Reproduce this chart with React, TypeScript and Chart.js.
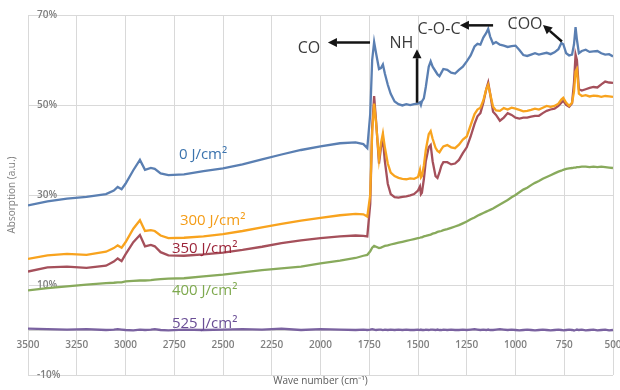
import { useEffect, useRef } from 'react';
import { Chart, registerables } from 'chart.js';

Chart.register(...registerables);

// Wave numbers (cm-1)
const waveNumbers = [
  3500, 3400, 3300, 3200, 3100, 3060, 3040, 3020, 3000, 2960,
  2926, 2900, 2870, 2850, 2820, 2780, 2700, 2600, 2500, 2400,
  2300, 2200, 2100, 2000, 1900, 1820, 1780, 1760, 1745, 1735,
  1725, 1715, 1700, 1690, 1680, 1670, 1655, 1640, 1620, 1600,
  1580, 1560, 1540, 1520, 1500, 1490, 1485, 1480, 1470, 1460,
  1445, 1435, 1425, 1410, 1400, 1390, 1380, 1370, 1350, 1330,
  1310, 1290, 1270, 1250, 1230, 1210, 1195, 1180, 1165, 1150,
  1140, 1130, 1115, 1100, 1080, 1060, 1040, 1020, 1000, 980,
  960, 940, 920, 900, 880, 860, 840, 820, 800, 780,
  765, 755, 740, 725, 710, 700, 692, 685, 675, 660,
  640, 620, 600, 580, 560, 540, 520, 500,
];

// Absorption (%) for each fluence
const abs0 = [
  27.7, 28.6, 29.2, 29.6, 30.2, 31.0, 31.8, 31.3, 32.5, 35.5,
  37.8, 35.6, 36.0, 35.8, 34.8, 34.4, 34.6, 35.3, 35.9, 36.8,
  37.9, 39.0, 40.0, 40.8, 41.5, 41.7, 41.3, 40.4, 48.0, 60.0,
  64.0, 61.5, 58.0, 58.2, 59.0, 57.0, 54.5, 52.5, 50.8, 50.2,
  49.9, 50.2, 50.0, 50.2, 50.3, 50.6, 50.0, 50.8, 51.5, 54.0,
  58.5, 59.7, 58.5, 57.5, 56.8, 56.4, 57.2, 58.0, 57.8, 57.2,
  57.0, 57.8, 58.5, 59.7, 61.0, 63.0, 63.6, 63.4, 65.0, 66.0,
  66.9, 65.2, 63.6, 64.0, 63.4, 63.2, 62.9, 63.1, 63.2, 62.2,
  61.1, 60.9, 61.2, 61.5, 61.2, 61.4, 61.6, 61.3, 61.7, 62.4,
  63.8, 63.5, 61.5, 61.0, 61.2, 63.5, 67.3, 64.5, 61.5, 62.0,
  62.3, 61.8, 61.9, 62.0, 61.5, 61.2, 61.3, 60.8,
];
const abs300 = [
  15.8, 16.6, 16.9, 16.7, 17.4, 18.2, 18.8, 18.3, 19.5, 22.5,
  24.4, 22.0, 22.2, 22.0, 21.0, 20.4, 20.5, 20.8, 21.3, 22.0,
  22.8, 23.6, 24.3, 24.9, 25.5, 25.8, 25.7, 25.2, 30.0, 44.0,
  50.3, 46.0, 38.0, 41.5, 43.7, 40.6, 37.0, 35.0, 34.2, 33.8,
  33.6, 33.5, 33.7, 33.6, 34.0, 35.6, 33.9, 34.2, 36.5, 40.0,
  43.5, 44.2, 42.5, 40.5, 39.8, 39.5, 40.2, 40.8, 41.1, 40.6,
  40.4, 41.2, 42.3, 43.0, 45.5, 48.0, 49.0, 49.4, 51.0, 53.5,
  54.5, 52.5, 49.6, 48.8, 48.7, 49.3, 49.0, 49.4, 49.2, 48.9,
  48.6, 48.7, 48.9, 49.2, 49.0, 49.4, 49.8, 49.6, 49.8, 50.3,
  51.2, 51.6, 50.5, 49.8, 50.5, 53.0, 57.5, 58.0, 52.5, 52.0,
  52.2, 51.9, 52.1, 52.0, 51.8, 52.0, 51.9, 51.8,
];
const abs350 = [
  13.0, 13.9, 14.1, 13.8, 14.3, 15.2, 15.9, 15.3, 16.8, 19.5,
  21.1, 18.6, 18.9, 18.6, 17.3, 16.6, 16.5, 16.8, 17.2, 17.8,
  18.5, 19.3, 19.9, 20.4, 20.8, 21.0, 20.9, 20.8, 28.0, 45.0,
  52.0, 46.5, 37.0, 40.5, 42.6, 37.5, 32.5, 30.2, 29.5, 29.4,
  29.6, 29.7, 29.9, 30.2, 31.0, 31.9, 30.2, 30.5, 33.5, 37.5,
  40.6, 41.1, 37.5, 34.2, 33.8, 35.0, 36.5, 37.3, 37.3, 36.8,
  37.0, 37.8, 39.3, 40.6, 43.0, 45.8, 47.5, 48.2, 50.5, 53.5,
  55.0, 52.5, 48.5, 47.8, 46.5, 47.2, 48.2, 47.8, 47.2, 47.0,
  47.2, 47.2, 47.4, 47.6, 47.6, 48.2, 48.7, 49.0, 49.2, 49.8,
  50.5, 50.9, 50.0, 49.6, 50.4, 55.0, 61.2, 60.0, 53.5, 53.2,
  53.5, 53.8, 54.0, 53.9, 54.6, 55.2, 55.0, 54.9,
];
const abs400 = [
  8.8, 9.3, 9.7, 10.1, 10.4, 10.5, 10.6, 10.6, 10.8, 10.9,
  11.0, 11.0, 11.1, 11.2, 11.3, 11.4, 11.5, 11.9, 12.3, 12.8,
  13.3, 13.7, 14.1, 14.8, 15.4, 16.0, 16.5, 16.7, 17.5, 18.3,
  18.7, 18.5, 18.2, 18.3, 18.5, 18.7, 18.8, 19.0, 19.2, 19.4,
  19.6, 19.8, 20.0, 20.2, 20.4, 20.5, 20.6, 20.6, 20.8, 20.9,
  21.1, 21.2, 21.4, 21.6, 21.8, 21.9, 22.0, 22.2, 22.4, 22.7,
  23.0, 23.3, 23.7, 24.1, 24.6, 25.0, 25.4, 25.7, 26.0, 26.3,
  26.5, 26.7, 27.0, 27.4, 27.9, 28.4, 28.9, 29.5, 30.0, 30.6,
  31.2, 31.6, 32.2, 32.7, 33.1, 33.6, 34.0, 34.4, 34.8, 35.2,
  35.4, 35.6, 35.8, 35.9, 36.0, 36.1, 36.1, 36.2, 36.2, 36.3,
  36.3, 36.2, 36.3, 36.2, 36.3, 36.2, 36.1, 36.0,
];
const abs525 = [
  0.3, 0.2, 0.1, 0.2, 0.0, 0.1, 0.2, 0.1, 0.0, -0.1,
  0.1, 0.0, 0.1, 0.2, 0.0, -0.1, 0.1, 0.0, 0.1, 0.2,
  0.1, 0.3, 0.0, 0.2, 0.1, 0.0, 0.1, 0.0, 0.1, 0.2,
  0.1, 0.0, 0.1, 0.1, 0.0, 0.1, 0.0, 0.1, 0.0, 0.1,
  0.0, 0.1, 0.0, 0.0, 0.1, 0.0, 0.1, 0.0, 0.0, 0.1,
  0.0, 0.1, 0.1, 0.0, 0.1, 0.0, 0.0, 0.1, 0.0, 0.1,
  0.0, 0.0, 0.1, 0.0, 0.1, 0.2, 0.1, 0.0, 0.1, 0.0,
  0.1, 0.0, 0.0, 0.1, 0.2, 0.1, 0.0, 0.1, 0.0, -0.1,
  0.0, 0.1, 0.0, -0.1, 0.0, 0.1, 0.0, -0.1, 0.0, 0.1,
  0.0, -0.1, 0.0, 0.1, 0.0, -0.1, 0.0, 0.1, 0.0, 0.1,
  -0.1, 0.0, 0.1, -0.1, 0.0, 0.1, -0.1, 0.0,
];

const seriesValues = [abs0, abs300, abs350, abs400, abs525];
const seriesNames = ['0 J/cm²', '300 J/cm²', '350 J/cm²', '400 J/cm²', '525 J/cm²'];
const lineColors = ['#5a7fb2', '#f8a31e', '#a5505b', '#88aa5c', '#7a62a0'];
const labelColors = ['#3b73ad', '#f49c16', '#9c2439', '#7ea94e', '#6a4e96'];

// Axis ranges
const X_MIN = 500;
const X_MAX = 3500;
const X_STEP = 250;
const Y_MIN = -10;
const Y_MAX = 70;
const Y_STEP = 20;

// Annotation anchors, in data coordinates [wave number, %]
const seriesLabelAt = [
  [2726, 38.9],
  [2721, 24.2],
  [2762, 18.0],
  [2762, 8.8],
  [2762, 1.5],
];
const peakNames = ['CO', 'NH', 'C-O-C', 'COO'];
const peakTextAt = [
  [2059, 62.6],
  [1585, 63.6],
  [1392, 66.8],
  [951, 68.0],
];
const peakArrows = [
  [[1746, 63.9], [1962, 63.9]],
  [[1505, 50.5], [1505, 62.4]],
  [[1115, 67.7], [1285, 67.7]],
  [[762, 64.1], [859, 67.8]],
];

const annotationPlugin = {
  id: 'ftirAnnotations',
  afterDatasetsDraw(chart: any) {
    const { ctx } = chart;
    const xs = chart.scales.x;
    const ys = chart.scales.y;
    ctx.save();
    ctx.font = '15px "Open Sans"';
    ctx.textAlign = 'left';
    ctx.textBaseline = 'middle';
    seriesNames.forEach((name, i) => {
      ctx.fillStyle = labelColors[i];
      ctx.fillText(name, xs.getPixelForValue(seriesLabelAt[i][0]), ys.getPixelForValue(seriesLabelAt[i][1]));
    });
    ctx.font = '16px "Open Sans"';
    ctx.textAlign = 'center';
    ctx.fillStyle = '#3a3a3a';
    peakNames.forEach((name, i) => {
      ctx.fillText(name, xs.getPixelForValue(peakTextAt[i][0]), ys.getPixelForValue(peakTextAt[i][1]));
    });
    ctx.strokeStyle = '#141414';
    ctx.fillStyle = '#141414';
    ctx.lineWidth = 2.5;
    peakArrows.forEach(([from, to]) => {
      const x1 = xs.getPixelForValue(from[0]);
      const y1 = ys.getPixelForValue(from[1]);
      const x2 = xs.getPixelForValue(to[0]);
      const y2 = ys.getPixelForValue(to[1]);
      const ang = Math.atan2(y2 - y1, x2 - x1);
      const head = 9;
      const half = 4.5;
      const bx = x2 - head * Math.cos(ang);
      const by = y2 - head * Math.sin(ang);
      ctx.beginPath();
      ctx.moveTo(x1, y1);
      ctx.lineTo(bx, by);
      ctx.stroke();
      ctx.beginPath();
      ctx.moveTo(x2, y2);
      ctx.lineTo(bx + half * Math.sin(ang), by - half * Math.cos(ang));
      ctx.lineTo(bx - half * Math.sin(ang), by + half * Math.cos(ang));
      ctx.closePath();
      ctx.fill();
    });
    ctx.restore();
  },
};

export default function App() {
  const canvasRef = useRef<HTMLCanvasElement | null>(null);

  useEffect(() => {
    const canvas = canvasRef.current;
    if (!canvas) return;
    const tickFont = { family: '"Open Sans", sans-serif', size: 10, weight: 600 as any };
    const chart = new Chart(canvas, {
      type: 'line',
      data: {
        labels: waveNumbers,
        datasets: seriesValues.map((vals, i) => ({
          label: seriesNames[i],
          data: vals.map((v, j) => ({ x: waveNumbers[j], y: v })),
          borderColor: lineColors[i],
          backgroundColor: lineColors[i],
          borderWidth: 2.3,
          pointRadius: 0,
          tension: 0,
          fill: false,
        })),
      },
      options: {
        responsive: false,
        animation: false,
        layout: { padding: { left: 2, right: 7, top: 13, bottom: 0 } },
        plugins: { legend: { display: false }, tooltip: { enabled: false } },
        scales: {
          x: {
            type: 'linear',
            reverse: true,
            min: X_MIN,
            max: X_MAX,
            position: { y: 0 } as any,
            ticks: {
              stepSize: X_STEP,
              color: '#7f7f7f',
              font: tickFont,
              padding: 9,
              maxRotation: 0,
              autoSkip: false,
              callback: (v: any) => String(v),
            },
            grid: { color: '#d9d9d9', drawTicks: false },
            border: { display: true, color: '#cfcfcf' },
            afterFit(s: any) { s.paddingLeft = 0; s.paddingRight = 0; },
          },
          x2: {
            type: 'linear',
            axis: 'x',
            reverse: true,
            min: X_MIN,
            max: X_MAX,
            position: 'bottom',
            ticks: { display: false },
            grid: { display: false },
            border: { display: false },
            title: {
              display: true,
              text: 'Wave number (cm⁻¹)',
              color: '#595959',
              font: { family: '"Open Sans", sans-serif', size: 10 },
              padding: { top: 0, bottom: 0 },
            },
            afterFit(s: any) { s.height = 12; s.paddingLeft = 0; s.paddingRight = 0; },
          } as any,
          y: {
            type: 'linear',
            min: Y_MIN,
            max: Y_MAX,
            position: 'left',
            ticks: { stepSize: Y_STEP, mirror: true, padding: 9, color: '#7f7f7f', font: tickFont, callback: (v: any) => `${v}%` },
            grid: { color: '#d9d9d9', drawTicks: false },
            border: { display: false },
            title: {
              display: true,
              text: 'Absorption (a.u.)',
              color: '#7f7f7f',
              font: { family: '"Open Sans", sans-serif', size: 10 },
              padding: { top: 4, bottom: 0 },
            },
            afterFit(s: any) { s.width = 26; },
          },
        },
      },
      plugins: [annotationPlugin],
    });
    return () => chart.destroy();
  }, []);

  return (
    <div style={{ position: 'fixed', left: 0, top: 0, width: 620, height: 390, background: '#ffffff' }}>
      <canvas ref={canvasRef} width={620} height={390} />
    </div>
  );
}
